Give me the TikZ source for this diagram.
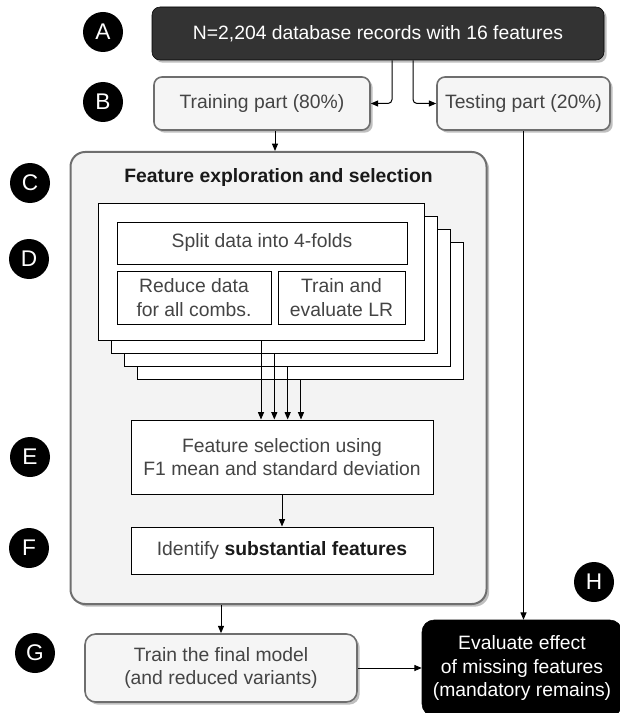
\documentclass[tikz,border=0pt]{standalone}
\usepackage{fontspec}
\setmainfont{Liberation Sans}
\usetikzlibrary{arrows.meta,shadows,calc}

\definecolor{darkbox}{HTML}{333333}
\definecolor{lightbox}{HTML}{F5F5F5}
\definecolor{panelfill}{HTML}{F3F3F3}
\definecolor{boxline}{HTML}{6E6E6E}
\definecolor{txtgray}{HTML}{444444}

\begin{document}
\begin{tikzpicture}[x=0.75pt,y=0.75pt,yscale=-1,xscale=1,
    every node/.style={font=\fontsize{14.5}{17.5}\selectfont, align=center, inner sep=0pt},
    mark circle/.style={circle, fill=black, text=white, minimum size=30pt, font=\fontsize{17}{17}\selectfont},
    shadowed/.style={drop shadow={shadow xshift=2pt, shadow yshift=-2pt, fill=black, opacity=0.25}},
    greybox/.style={draw=boxline, line width=1.2pt, fill=lightbox, rounded corners=6pt, text=txtgray, shadowed},
    plainbox/.style={draw=black, line width=0.75pt, fill=white, text=txtgray},
    fold/.style={draw=black, line width=0.75pt, fill=white, minimum width=244.5pt, minimum height=102.75pt},
    arr/.style={-{Triangle[length=5.5pt,width=4.5pt]}, line width=0.75pt}
  ]
  \useasboundingbox (0,0) rectangle (620,713);

  % boxes
  \node [draw=black, fill=darkbox, text=white, rounded corners=6pt, shadowed, minimum width=339pt, minimum height=39.75pt] (dbox) at (378,33.5) {N=2,204 database records with 16 features};
  \node [greybox, minimum width=162pt, minimum height=39.75pt] (train) at (262,103.5) {Training part (80\%)};
  \node [greybox, minimum width=129.75pt, minimum height=39.75pt] (test) at (523.5,103.5) {Testing part (20\%)};

  \node [draw=boxline, line width=1.5pt, fill=panelfill, rounded corners=11pt, shadowed, minimum width=312pt, minimum height=339pt] (expl) at (278.5,378) {};
  \node [text=black!90] (title) at (278.5,178) {\bfseries Feature exploration and selection};

  \foreach \i in {4,3,2,1}
    \node [fold] (layer\i) at ({261+13.33*(\i-1)},{271.5+13.33*(\i-1)}) {};
  \node [plainbox, minimum width=217.5pt, minimum height=31.5pt] (split) at (262,243) {Split data into 4-folds};
  \node [plainbox, minimum width=115.5pt, minimum height=39.75pt] (reduce) at (194,297.5) {Reduce data\\for all combs.};
  \node [plainbox, minimum width=95.25pt, minimum height=39.75pt] (trainlr) at (341.5,297.5) {Train and\\evaluate LR};

  \node [plainbox, minimum width=226.5pt, minimum height=55.5pt] (selbox) at (282,457) {Feature selection using\\F1 mean and standard deviation};
  \node [plainbox, minimum width=226.5pt, minimum height=35.25pt] (identbox) at (282,550.5) {Identify \textbf{\color{black!90}substantial features}};

  \node [greybox, rounded corners=8pt, minimum width=204pt, minimum height=51pt] (finalbox) at (221,668) {Train the final model\\(and reduced variants)};
  \node [draw=black, fill=black, text=white, rounded corners=9pt, minimum width=150pt, minimum height=72pt] (evalbox) at (522,668) {Evaluate effect\\of missing features\\(mandatory remains)};

  % step marks
  \node [mark circle] (markA) at (103,32) {A};
  \node [mark circle] (markB) at (103,102) {B};
  \node [mark circle] (markC) at (30,183) {C};
  \node [mark circle] (markD) at (29,259) {D};
  \node [mark circle] (markE) at (30,457) {E};
  \node [mark circle] (markF) at (29,548) {F};
  \node [mark circle] (markG) at (35,653) {G};
  \node [mark circle] (markH) at (594,582) {H};

  % arrows
  \draw [arr, rounded corners=3pt] ($(dbox.south)+(14,0)$) |- (train.east);
  \draw [arr, rounded corners=3pt] ($(dbox.south)+(35,0)$) |- (test.west);
  \coordinate (tc) at ($(train.south)+(13,0)$);
  \draw [arr] (tc) -- (tc |- expl.north);
  \foreach \i in {1,...,4}
    \draw [arr] (layer\i.south) -- (layer\i.south |- selbox.north);
  \draw [arr] (selbox.south) -- (identbox.north);
  \draw [arr] (finalbox.north |- expl.south) -- (finalbox.north);
  \draw [arr] (test.south) -- (test.south |- evalbox.north);
  \draw [arr] (finalbox.east) -- (finalbox.east -| evalbox.west);
\end{tikzpicture}
\end{document}
